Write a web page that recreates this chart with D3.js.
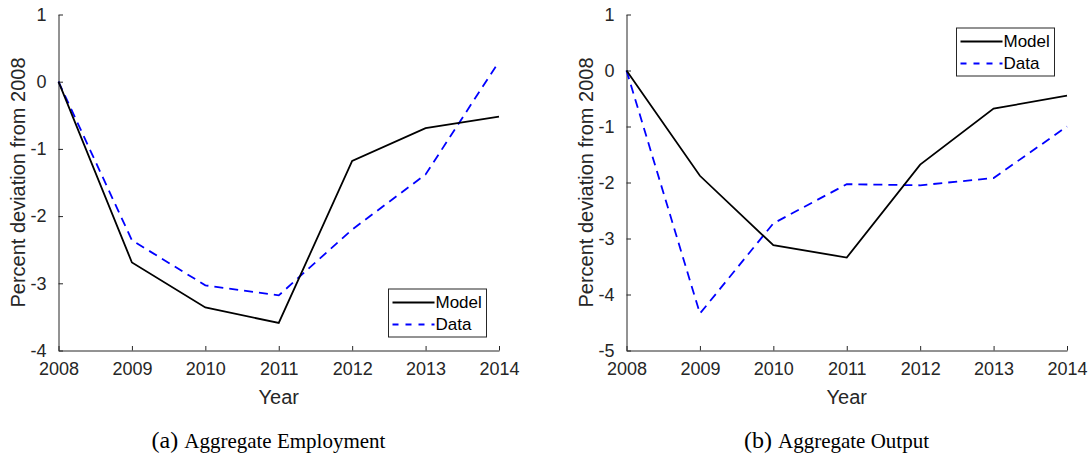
<!DOCTYPE html>
<html>
<head>
<meta charset="utf-8">
<script src="https://cdn.jsdelivr.net/npm/d3@7"></script>
<style>
  body { margin: 0; background: #fff; }
  svg { display: block; }
  .tick text { font-family: "Liberation Sans", Arial, sans-serif; font-size: 18px; fill: #262626; }
  .domain, .tick line { stroke: #262626; }
</style>
</head>
<body>
<svg id="chart" width="1092" height="456"></svg>
<script>
const years = [2008, 2009, 2010, 2011, 2012, 2013, 2014];
const employmentModel = [0, -2.69, -3.36, -3.59, -1.18, -0.69, -0.52];
const employmentData = [0, -2.36, -3.03, -3.18, -2.20, -1.38, 0.30];
const outputModel = [0, -1.88, -3.12, -3.34, -1.68, -0.68, -0.45];
const outputData = [0, -4.34, -2.73, -2.03, -2.05, -1.92, -1.00];
const seriesNames = ["Model", "Data"];

const panels = [
  { left: 58.5, yDomain: [-4, 1], model: employmentModel, data: employmentData,
    tag: "(a)", caption: "Aggregate Employment", legendAt: "bottom" },
  { left: 626.5, yDomain: [-5, 1], model: outputModel, data: outputData,
    tag: "(b)", caption: "Aggregate Output", legendAt: "top" }
];

const svg = d3.select("#chart");
const plotW = 440.5, plotTop = 14.5, plotBottom = 350.5;
const font = "'Liberation Sans', Arial, sans-serif";

panels.forEach(p => {
  const x = d3.scaleLinear().domain([years[0], years[years.length - 1]]).range([p.left, p.left + plotW]);
  const y = d3.scaleLinear().domain(p.yDomain).range([plotBottom, plotTop]);

  // axes, ticks pointing inward like matlab
  svg.append("g")
    .attr("transform", `translate(0,${plotBottom})`)
    .call(d3.axisBottom(x).tickValues(years).tickFormat(d3.format("d"))
      .tickSizeInner(-4.5).tickSizeOuter(0).tickPadding(12));
  svg.append("g")
    .attr("transform", `translate(${p.left},0)`)
    .call(d3.axisLeft(y).ticks(p.yDomain[1] - p.yDomain[0])
      .tickFormat(d3.format("d")).tickSizeInner(-4.5).tickSizeOuter(0).tickPadding(12));
  svg.selectAll(".tick text").text(function () { return this.textContent.replace("−", "-"); });

  const line = d3.line().x((d, i) => x(years[i])).y(d => y(d));

  svg.append("path").datum(p.data)
    .attr("d", line).attr("fill", "none")
    .attr("stroke", "#0000ff").attr("stroke-width", 1.8).attr("stroke-dasharray", "9,6");
  svg.append("path").datum(p.model)
    .attr("d", line).attr("fill", "none")
    .attr("stroke", "#000").attr("stroke-width", 1.8);

  // labels
  svg.append("text")
    .attr("transform", `translate(${p.left - 40.5},${(plotTop + plotBottom) / 2}) rotate(-90)`)
    .attr("text-anchor", "middle").attr("dy", "0.35em")
    .style("font-family", font).style("font-size", "20px").style("fill", "#262626")
    .text("Percent deviation from 2008");
  svg.append("text")
    .attr("x", p.left + plotW / 2).attr("y", 404)
    .attr("text-anchor", "middle")
    .style("font-family", font).style("font-size", "20px").style("fill", "#262626")
    .text("Year");

  const cap = svg.append("text")
    .attr("x", p.left + 210).attr("y", 448)
    .attr("text-anchor", "middle")
    .style("font-family", "'Liberation Serif', 'Times New Roman', serif").style("fill", "#000");
  cap.append("tspan").style("font-size", "24px").text(p.tag + " ");
  cap.append("tspan").style("font-size", "21px").text(p.caption);

  // legend
  const boxW = 98, boxH = 48;
  const bx = p.left + plotW - 12.5 - boxW;
  const by = p.legendAt === "top" ? plotTop + 13.5 : plotBottom - 13.5 - boxH;
  const lg = svg.append("g").attr("transform", `translate(${bx},${by})`);
  lg.append("rect").attr("width", boxW).attr("height", boxH)
    .attr("fill", "#fff").attr("stroke", "#262626").attr("stroke-width", 1);
  const styles = [{ c: "#000", dash: null }, { c: "#0000ff", dash: "6,7" }];
  seriesNames.forEach((name, i) => {
    const ly = 13.5 + i * 22;
    lg.append("line").attr("x1", 4).attr("x2", 46).attr("y1", ly).attr("y2", ly)
      .attr("stroke", styles[i].c).attr("stroke-width", 1.8)
      .attr("stroke-dasharray", styles[i].dash);
    lg.append("text").attr("x", 47).attr("y", ly).attr("dy", "0.35em")
      .style("font-family", font).style("font-size", "17px").style("fill", "#000")
      .text(name);
  });
});
</script>
</body>
</html>
